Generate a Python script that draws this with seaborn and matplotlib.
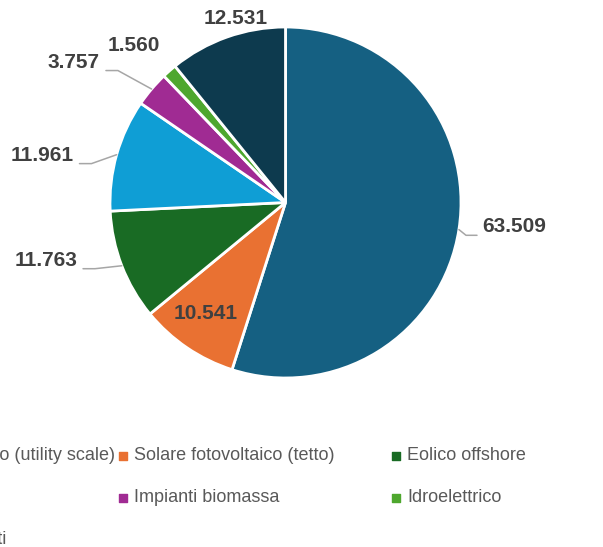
import numpy as np
import seaborn as sns
import matplotlib.pyplot as plt
from matplotlib import font_manager

# dati
categorie = ["Solare fotovoltaico (utility scale)", "Solare fotovoltaico (tetto)",
             "Eolico offshore", "Eolico onshore", "Impianti biomassa",
             "Idroelettrico", "Termico e impianti"]
valori = [63509, 10541, 11763, 11961, 3757, 1560, 12531]
colori = ["#156082", "#E97132", "#196B24", "#0F9ED5", "#A02B93", "#4EA72E", "#0D3A4E"]

# posizione etichette: (raggio relativo, spostamento angolare in gradi), linea guida
pos_etichette = [(1.309, 2.8), (0.776, -1.5), (1.406, -7.6), (1.414, 4.8),
                 (1.447, 6.7), (1.245, 2.5), (1.088, -4.5)]
guida = [True, False, True, True, True, False, False]

sns.set_theme(style="white")
nomi = {f.name for f in font_manager.fontManager.ttflist}
font_legenda = "Liberation Sans Narrow" if "Liberation Sans Narrow" in nomi else "Liberation Sans"
plt.rcParams['font.family'] = ['Liberation Sans', 'DejaVu Sans']

fig = plt.figure(figsize=(6.03, 5.47), dpi=100)
ax = fig.add_axes([0, 0, 1, 1])
cx, cy, R = 285.5, 344.5, 175.5
wedges, _ = ax.pie(valori, colors=colori, startangle=90, counterclock=False,
                   center=(cx, cy), radius=R,
                   wedgeprops=dict(edgecolor="white", linewidth=2))
ax.set_xlim(0, 603)
ax.set_ylim(0, 547)
ax.set_aspect("equal")
ax.axis("off")

fig.canvas.draw()
renderer = fig.canvas.get_renderer()
inv = ax.transData.inverted()

for w, v, (rf, dt), g in zip(wedges, valori, pos_etichette, guida):
    mid = (w.theta1 + w.theta2) / 2
    a = np.deg2rad(mid + dt)
    tx, ty = cx + rf * R * np.cos(a), cy + rf * R * np.sin(a)
    testo = f"{v:,}".replace(",", ".")
    t = ax.text(tx, ty, testo, ha="center", va="center", fontsize=15,
                fontweight="bold", color="#404040")
    if g:
        bb = t.get_window_extent(renderer).transformed(inv)
        am = np.deg2rad(mid)
        sx, sy = cx + R * np.cos(am), cy + R * np.sin(am)
        ly = bb.y0 + 1
        if tx > cx:
            ex = bb.x0 - 5
            kx = ex - 11
        else:
            ex = bb.x1 + 6
            kx = ex + 12
        ax.plot([sx, kx, ex], [sy, ly, ly], color="#A6A6A6", lw=1.1)

# legenda
for i, (nome, col) in enumerate(zip(categorie, colori)):
    c, r = i % 3, i // 3
    mx = -154 + c * 273 + 4
    my = 547 - (456 + r * 42)
    ax.scatter([mx], [my], marker="s", s=30, color=col, clip_on=False)
    ax.text(mx + 11, my, nome, ha="left", va="center", fontsize=13,
            family=font_legenda, color="#595959")

plt.savefig("out.png", dpi=100)
